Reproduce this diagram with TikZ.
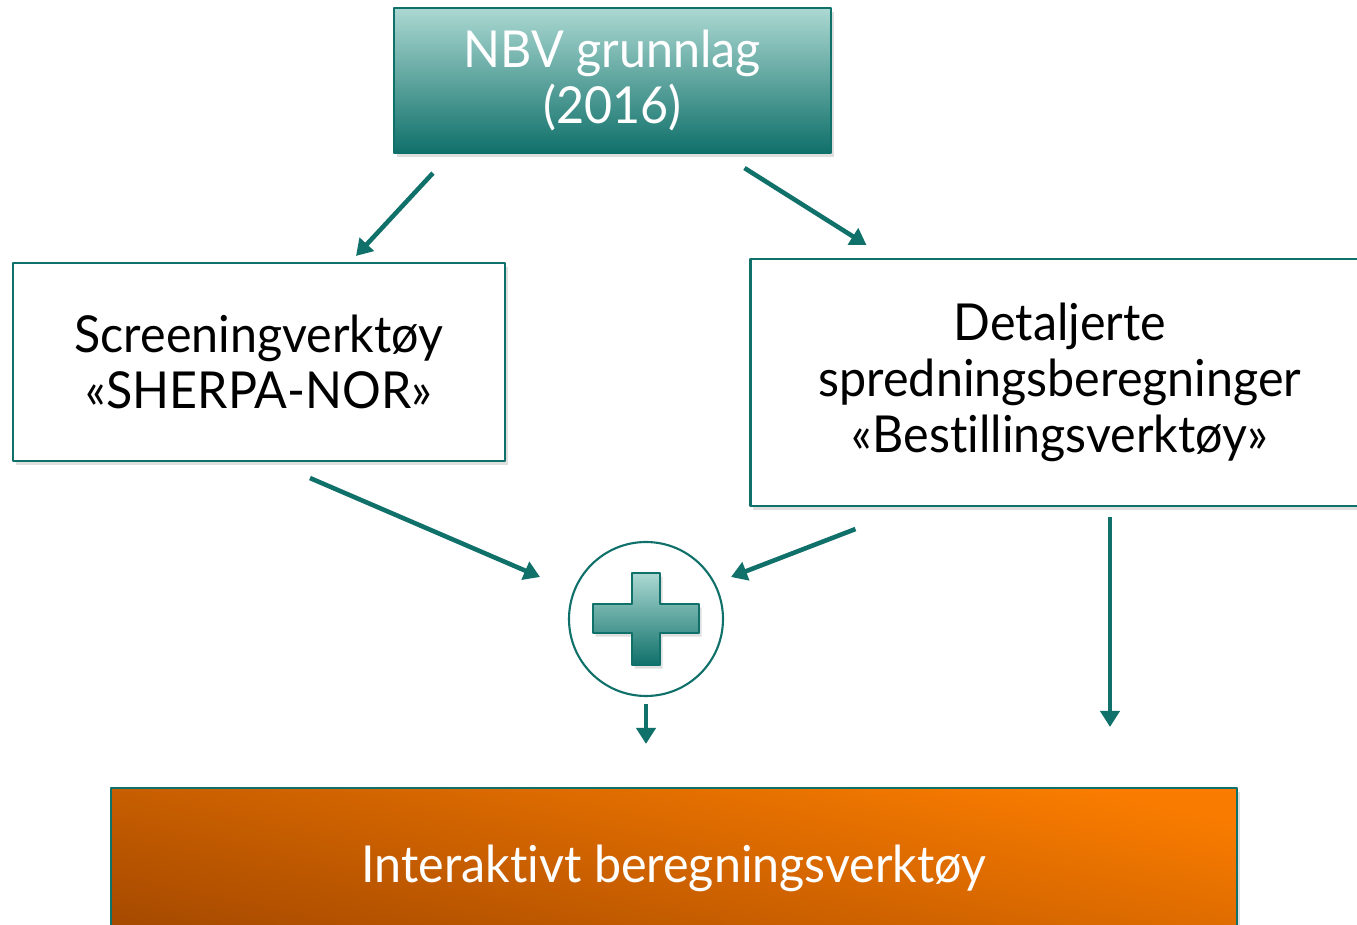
\documentclass[tikz,border=0pt]{standalone}
\usepackage{fontspec}
\setmainfont{Lato}[FakeStretch=0.95, Ligatures={NoCommon}]
\usetikzlibrary{arrows.meta,shadows}
\definecolor{nbvdark}{HTML}{10706A}
\definecolor{nbvlight}{HTML}{ACD8D2}
\definecolor{orglight}{HTML}{F97C00}
\definecolor{orgdark}{HTML}{A84B00}
\tikzset{
  box/.style={draw=nbvdark, line width=1.2pt, rectangle, align=center,
    drop shadow={opacity=0.25, shadow xshift=1.5pt, shadow yshift=-2pt}},
  tealbox/.style={box, top color=nbvlight, bottom color=nbvdark, text=white},
  whitebox/.style={box, fill=white, text=black},
  orangebox/.style={box, top color=orglight, bottom color=orgdark,
    shading angle=-12, text=white},
  arr/.style={->, draw=nbvdark, line width=2.6pt}
}
\begin{document}
\begin{tikzpicture}[x=0.02cm, y=-0.02cm, line join=round,
    font=\fontsize{29}{32}\selectfont,
    >={Triangle[length=0.32cm, width=0.38cm]}]
  \useasboundingbox (0,0) rectangle (1357,925);
  % boxes
  \node[tealbox, minimum width=437*0.02cm, minimum height=145*0.02cm] (nbv) at (612.5,80.5) {NBV grunnlag\\(2016)};
  \node[whitebox, minimum width=492*0.02cm, minimum height=198*0.02cm] (screen) at (259,362) {Screeningverktøy\\«SHERPA-NOR»};
  \node[whitebox, minimum width=619*0.02cm, minimum height=247*0.02cm] (detalj) at (1060,382.5) {Detaljerte\\spredningsberegninger\\«Bestillingsverktøy»};
  \node[orangebox, minimum width=1126*0.02cm, minimum height=160*0.02cm] (inter) at (674,868) {Interaktivt beregningsverktøy};
  \node[circle, draw=nbvdark, line width=1.2pt, fill=white, minimum size=154*0.02cm] (plus) at (646,619) {};
  \shade[shift={(plus)}, top color=nbvlight, bottom color=nbvdark, draw=nbvdark, line width=0.8pt,
    drop shadow={opacity=0.25, shadow xshift=1.5pt, shadow yshift=-2pt}]
    (-14,-46) -- (14,-46) -- (14,-15) -- (53,-15) -- (53,14) -- (14,14) -- (14,46)
    -- (-14,46) -- (-14,14) -- (-53,14) -- (-53,-15) -- (-14,-15) -- cycle;
  % arrows
  \draw[arr] ([shift={(40,19)}]nbv.south west) -- ([shift={(97,-6)}]screen.north);
  \draw[arr] ([shift={(132,14)}]nbv.south) -- ([shift={(117,-13)}]detalj.north west);
  \draw[arr] ([shift={(51,16)}]screen.south) -- ([shift={(-106,-42)}]plus.center);
  \draw[arr] ([shift={(106,22)}]detalj.south west) -- ([shift={(85,-42)}]plus.center);
  \draw[arr] ([yshift=-0.14cm]plus.south) -- ([yshift=0.86cm]inter.north -| plus.south);
  \draw[arr] ([yshift=-0.2cm]detalj.south -| 1110,0) -- ([yshift=1.2cm]inter.north -| 1110,0);
\end{tikzpicture}
\end{document}
